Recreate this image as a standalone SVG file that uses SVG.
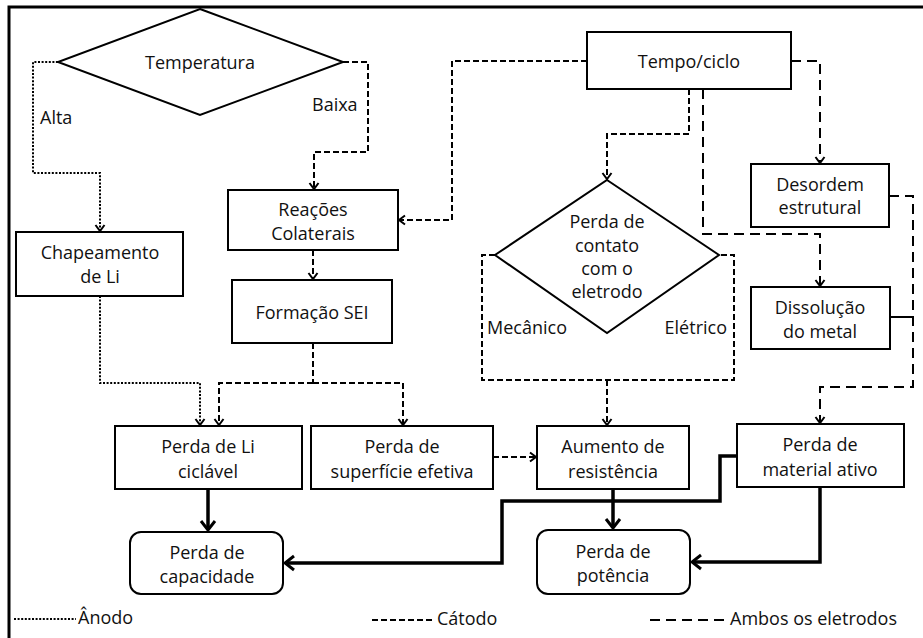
<svg xmlns="http://www.w3.org/2000/svg" width="923" height="638" viewBox="0 0 923 638">
  <style>
    text { font-family: "Open Sans", "Liberation Sans", sans-serif; font-size: 18px; fill: #111; dominant-baseline: central; }
    .c { text-anchor: middle; }
    .node { fill: #fff; stroke: #000; stroke-width: 2; }
    .wire { fill: none; stroke: #000; stroke-width: 2; }
    .anode { stroke-dasharray: 2 1.6; }
    .cathode { stroke-dasharray: 6 3; }
    .both { stroke-dasharray: 10 6; }
    .solid { stroke-width: 3.5; }
  </style>
  <defs>
    <marker id="tip" markerUnits="userSpaceOnUse" viewBox="-8 -6 10 12" markerWidth="10" markerHeight="12" refX="0" refY="0" orient="auto">
      <path d="M-6,-4.5 L0,0 L-6,4.5" fill="none" stroke="#000" stroke-width="2"/>
    </marker>
    <marker id="tipBig" markerUnits="userSpaceOnUse" viewBox="-12 -9 14 18" markerWidth="14" markerHeight="18" refX="0" refY="0" orient="auto">
      <path d="M-9,-7 L0,0 L-9,7" fill="none" stroke="#000" stroke-width="3"/>
    </marker>
  </defs>

  <!-- outer frame -->
  <rect x="9" y="7" width="930" height="650" fill="#fff" stroke="#000" stroke-width="3"/>

  <!-- connectors -->
  <g id="connectors">
    <!-- anode (dotted) -->
    <path class="wire anode" d="M58,62 H33 V173 H100 V231" marker-end="url(#tip)"/>
    <path class="wire anode" d="M100,296 V383 H200 V425" marker-end="url(#tip)"/>

    <!-- cathode (short dashes) -->
    <path class="wire cathode" d="M343,62 H368 V152 H314 V189" marker-end="url(#tip)"/>
    <path class="wire cathode" d="M587,61 H452 V220 H399" marker-end="url(#tip)"/>
    <path class="wire cathode" d="M313,250 V279" marker-end="url(#tip)"/>
    <path class="wire cathode" d="M313,343 V383"/>
    <path class="wire cathode" d="M313,383 H219 V425" marker-end="url(#tip)"/>
    <path class="wire cathode" d="M313,383 H403 V425" marker-end="url(#tip)"/>
    <path class="wire cathode" d="M689,89 V134 H607 V179" marker-end="url(#tip)"/>
    <path class="wire cathode" d="M495,255 H482 V380 H734 V255 H719"/>
    <path class="wire cathode" d="M607,380 V425" marker-end="url(#tip)"/>
    <path class="wire cathode" d="M493,457 H536" marker-end="url(#tip)"/>

    <!-- both electrodes (long dashes) -->
    <path class="wire both" d="M791,61 H820 V163" marker-end="url(#tip)"/>
    <path class="wire both" d="M703,89 V234 H820 V286" marker-end="url(#tip)"/>
    <path class="wire both" d="M889,196 H913 V387 H820 V423" marker-end="url(#tip)"/>
    <path class="wire" d="M890,317 H913"/>

    <!-- solid consequences -->
    <path class="wire solid" d="M208,489 V530" marker-end="url(#tipBig)"/>
    <path class="wire solid" d="M613,489 V528" marker-end="url(#tipBig)"/>
    <path class="wire solid" d="M820,487 V562 H692" marker-end="url(#tipBig)"/>
    <path class="wire solid" d="M737,456 H720 V501 H502 V563 H285" marker-end="url(#tipBig)"/>
  </g>

  <!-- edge labels -->
  <text x="40" y="117">Alta</text>
  <text x="312" y="104">Baixa</text>
  <text x="487" y="327">Mecânico</text>
  <text x="727" y="327" text-anchor="end">Elétrico</text>

  <!-- nodes -->
  <g id="temperatura">
    <polygon class="node" points="200,9 343,62 200,115 58,62"/>
    <text class="c" x="200" y="62">Temperatura</text>
  </g>
  <g id="tempo-ciclo">
    <rect class="node" x="587" y="32" width="204" height="57"/>
    <text class="c" x="689" y="61">Tempo/ciclo</text>
  </g>
  <g id="chapeamento">
    <rect class="node" x="16" y="232" width="167" height="64"/>
    <text class="c" x="100" y="252">Chapeamento</text>
    <text class="c" x="100" y="276">de Li</text>
  </g>
  <g id="reacoes">
    <rect class="node" x="228" y="190" width="170" height="60"/>
    <text class="c" x="313" y="209">Reações</text>
    <text class="c" x="313" y="233">Colaterais</text>
  </g>
  <g id="formacao-sei">
    <rect class="node" x="232" y="280" width="160" height="63"/>
    <text class="c" x="312" y="312">Formação SEI</text>
  </g>
  <g id="perda-contato">
    <polygon class="node" points="607,180 719,255 607,333 495,255"/>
    <text class="c" x="607" y="221">Perda de</text>
    <text class="c" x="607" y="245">contato</text>
    <text class="c" x="607" y="268">com o</text>
    <text class="c" x="607" y="291">eletrodo</text>
  </g>
  <g id="desordem">
    <rect class="node" x="751" y="164" width="138" height="63"/>
    <text class="c" x="820" y="184">Desordem</text>
    <text class="c" x="820" y="207">estrutural</text>
  </g>
  <g id="dissolucao">
    <rect class="node" x="751" y="287" width="139" height="62"/>
    <text class="c" x="820" y="307">Dissolução</text>
    <text class="c" x="820" y="331">do metal</text>
  </g>
  <g id="perda-li">
    <rect class="node" x="115" y="426" width="187" height="63"/>
    <text class="c" x="208" y="446">Perda de Li</text>
    <text class="c" x="208" y="471">ciclável</text>
  </g>
  <g id="perda-superficie">
    <rect class="node" x="311" y="426" width="182" height="63"/>
    <text class="c" x="402" y="446">Perda de</text>
    <text class="c" x="402" y="471">superfície efetiva</text>
  </g>
  <g id="aumento-resistencia">
    <rect class="node" x="537" y="426" width="152" height="63"/>
    <text class="c" x="613" y="446">Aumento de</text>
    <text class="c" x="613" y="471">resistência</text>
  </g>
  <g id="perda-material">
    <rect class="node" x="737" y="424" width="167" height="63"/>
    <text class="c" x="820" y="444">Perda de</text>
    <text class="c" x="820" y="469">material ativo</text>
  </g>
  <g id="perda-capacidade">
    <rect class="node" x="130" y="532" width="153" height="62" rx="11"/>
    <text class="c" x="207" y="552">Perda de</text>
    <text class="c" x="207" y="576">capacidade</text>
  </g>
  <g id="perda-potencia">
    <rect class="node" x="537" y="530" width="153" height="64" rx="11"/>
    <text class="c" x="613" y="551">Perda de</text>
    <text class="c" x="613" y="575">potência</text>
  </g>

  <!-- legend -->
  <g id="legend">
    <line class="wire anode" x1="14" y1="619" x2="76" y2="619" stroke-width="1.5"/>
    <text x="78" y="617">Ânodo</text>
    <line class="wire cathode" x1="372" y1="620" x2="434" y2="620"/>
    <text x="437" y="618">Cátodo</text>
    <line class="wire both" x1="650" y1="620" x2="728" y2="620" stroke-dasharray="8 6"/>
    <text x="730" y="618">Ambos os eletrodos</text>
  </g>
</svg>
